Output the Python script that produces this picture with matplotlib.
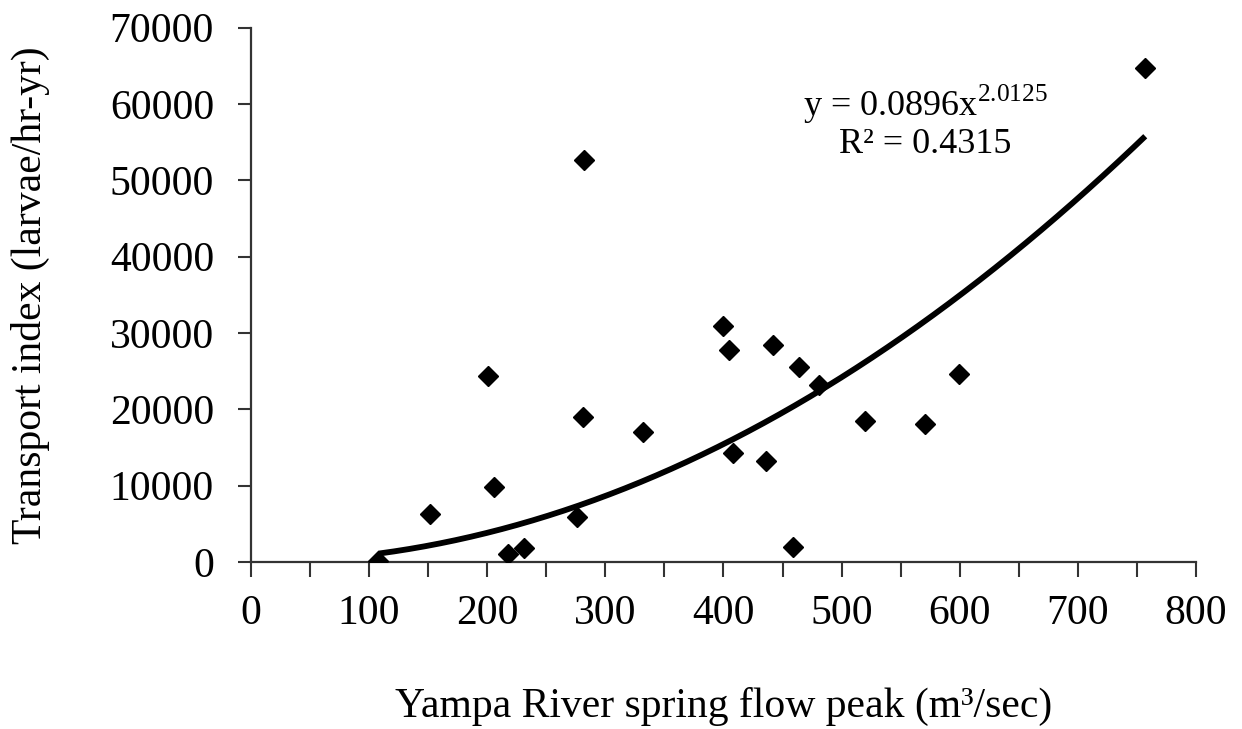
import numpy as np
import matplotlib
matplotlib.use('Agg')
import matplotlib.pyplot as plt
from matplotlib.ticker import MultipleLocator

plt.rcParams['font.family'] = ['Liberation Serif', 'DejaVu Serif']
plt.rcParams['mathtext.fontset'] = 'custom'
plt.rcParams['mathtext.rm'] = 'Liberation Serif'

# Yampa River spring peak flow (m3/sec) vs larval transport index
flow = [108, 152, 201, 206, 218, 231, 276, 281, 282, 332, 400, 405, 408,
        436, 442, 459, 464, 481, 520, 571, 599, 757]
transport = [200, 6300, 24400, 9800, 1000, 1800, 5900, 19000, 52700, 17000,
             30900, 27800, 14300, 13200, 28400, 2000, 25500, 23200, 18500,
             18100, 24600, 64700]

# power fit reported with the data
coef_a = 0.0896
coef_b = 2.0125
r_squared = 0.4315

fig = plt.figure(figsize=(12.42, 7.29), dpi=100)
ax = fig.add_axes([0.202, 0.229, 0.761, 0.733])

xfit = np.linspace(min(flow), max(flow), 200)
ax.plot(xfit, coef_a * xfit ** coef_b, color='black', lw=4.2,
        solid_capstyle='butt', zorder=2)
ax.plot(flow, transport, 'D', color='black', ms=10.5, zorder=3)

ax.set_xlim(0, 800)
ax.set_ylim(0, 70000)
ax.xaxis.set_major_locator(MultipleLocator(100))
ax.xaxis.set_minor_locator(MultipleLocator(50))
ax.yaxis.set_major_locator(MultipleLocator(10000))

for s in ['top', 'right']:
    ax.spines[s].set_visible(False)
for s in ['left', 'bottom']:
    ax.spines[s].set_linewidth(1.6)
    ax.spines[s].set_color('#333333')

ax.tick_params(axis='both', which='both', direction='out', width=1.5,
               color='#333333', labelsize=30)
ax.tick_params(axis='x', which='both', length=11, pad=12)
ax.tick_params(axis='y', length=9.5, pad=17)

ax.set_xlabel('Yampa River spring flow peak (m³/sec)', fontsize=30, labelpad=39)
ax.set_ylabel('Transport index (larvae/hr-yr)', fontsize=30, labelpad=43)

ax.text(571, 59900, 'y = %.4fx$^{%.4f}$' % (coef_a, coef_b), fontsize=26,
        ha='center', va='center')
ax.text(571, 54700, 'R² = %.4f' % r_squared, fontsize=26,
        ha='center', va='center')

fig.savefig('out.png', dpi=100)
